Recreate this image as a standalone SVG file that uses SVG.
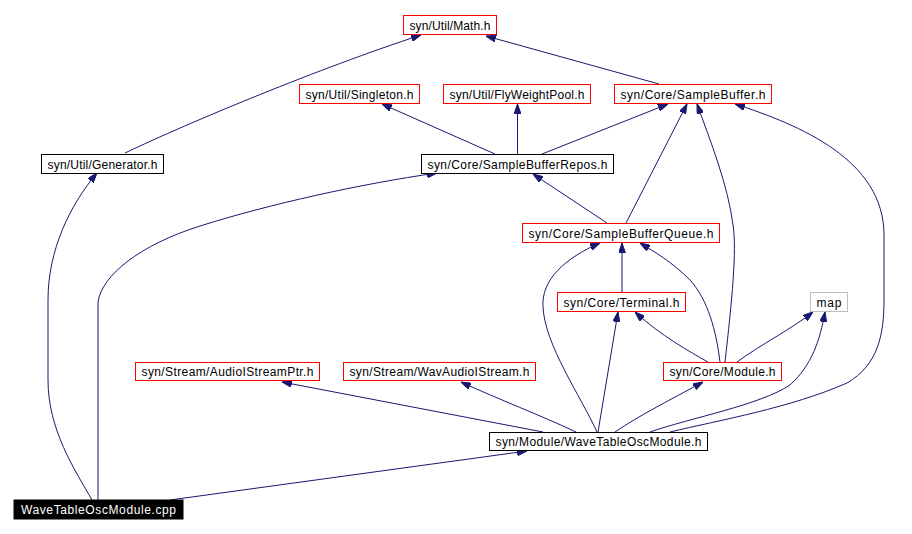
<svg xmlns="http://www.w3.org/2000/svg" width="912" height="534" viewBox="0 0 912 534">
<style>
.n rect{fill:#fff;stroke-width:1}
.red rect{stroke:#ff0000}
.blk rect{stroke:#000}
.gry rect{stroke:#bfbfbf}
.n text{font-family:"Liberation Sans",Arial,sans-serif;font-size:12px;text-anchor:middle;fill:#000}
#cpp rect{fill:#000;stroke:#000}
#cpp text{fill:#fff}
#edges path{fill:none;stroke:#191970;stroke-width:1;marker-end:url(#ah)}
</style>
<defs>
<marker id="ah" viewBox="0 0 10 7" refX="10" refY="3.5" markerWidth="10" markerHeight="7" markerUnits="userSpaceOnUse" orient="auto">
<path d="M0,0 L10,3.5 L0,7 z" fill="#191970" stroke="#191970"/>
</marker>
</defs>
<rect width="912" height="534" fill="#fff"/>
<g id="edges">
<path d="M125,153 C190,122 320,68 421,35"/>
<path d="M659,84 L486,36"/>
<path d="M495,154 L382,104"/>
<path d="M517.5,154 L517.5,104"/>
<path d="M542,154 L668,104"/>
<path d="M626,223 L687,104"/>
<path d="M725,362 C732,300 737,250 733,225 C728,185 710,140 697,104"/>
<path d="M670,432 C720,420 790,408 847,383 C878,365 884,335 884,300 L884,235 C884,160 800,125 735,104"/>
<path d="M92,500 C75,470 48,430 48,380 L48,300 C48,250 70,205 97,173"/>
<path d="M98,500 L98,302 C102,275 140,245 200,226 C270,204 360,184 437,173"/>
<path d="M607,223 L533,174"/>
<path d="M622,292 L622,243"/>
<path d="M597,432 C580,395 545,345 543,307 C541,280 565,258 600,243"/>
<path d="M720,362 C716,330 708,300 690,280 C672,262 655,252 640,243"/>
<path d="M708,362 C690,352 660,335 635,312"/>
<path d="M737,362 C760,345 790,330 813,312"/>
<path d="M598,432 L618,312"/>
<path d="M615,432 C640,415 670,400 703,382"/>
<path d="M650,432 C690,418 760,405 790,385 C812,365 820,340 825,312"/>
<path d="M543,432 L282,382"/>
<path d="M576,432 C540,415 500,400 461,382"/>
<path d="M170,500 L527,451"/>
</g>
<g id="math" class="n red"><rect x="403.5" y="15.5" width="93" height="19"/><text x="450" y="29.5" textLength="81">syn/Util/Math.h</text></g>
<g id="singleton" class="n red"><rect x="299.5" y="84.5" width="120" height="19"/><text x="359.5" y="98.5" textLength="108">syn/Util/Singleton.h</text></g>
<g id="flyweightpool" class="n red"><rect x="443.5" y="84.5" width="147" height="19"/><text x="517" y="98.5" textLength="135">syn/Util/FlyWeightPool.h</text></g>
<g id="samplebuffer" class="n red"><rect x="614.5" y="84.5" width="157" height="19"/><text x="693" y="98.5" textLength="145">syn/Core/SampleBuffer.h</text></g>
<g id="generator" class="n blk"><rect x="41.5" y="154.5" width="122" height="19"/><text x="102.5" y="168.5" textLength="110">syn/Util/Generator.h</text></g>
<g id="samplebufferrepos" class="n blk"><rect x="421.5" y="154.5" width="192" height="19"/><text x="517.5" y="168.5" textLength="180">syn/Core/SampleBufferRepos.h</text></g>
<g id="samplebufferqueue" class="n red"><rect x="522.5" y="223.5" width="197" height="19"/><text x="621" y="237.5" textLength="185">syn/Core/SampleBufferQueue.h</text></g>
<g id="terminal" class="n red"><rect x="557.5" y="292.5" width="128" height="19"/><text x="621.5" y="306.5" textLength="116">syn/Core/Terminal.h</text></g>
<g id="map" class="n gry"><rect x="810.5" y="292.5" width="37" height="19"/><text x="829" y="306.5" textLength="25">map</text></g>
<g id="audioistreamptr" class="n red"><rect x="135.5" y="362.5" width="184" height="18"/><text x="227.5" y="376" textLength="172">syn/Stream/AudioIStreamPtr.h</text></g>
<g id="wavaudioistream" class="n red"><rect x="343.5" y="362.5" width="192" height="18"/><text x="439.5" y="376" textLength="180">syn/Stream/WavAudioIStream.h</text></g>
<g id="module" class="n red"><rect x="663.5" y="362.5" width="118" height="18"/><text x="722.5" y="376" textLength="106">syn/Core/Module.h</text></g>
<g id="wavetableoscmodule_h" class="n blk"><rect x="489.5" y="432.5" width="218" height="18"/><text x="598.5" y="446" textLength="206">syn/Module/WaveTableOscModule.h</text></g>
<g id="cpp" class="n"><rect x="14" y="500" width="169" height="19"/><text x="98.5" y="514" textLength="155">WaveTableOscModule.cpp</text></g>
</svg>
